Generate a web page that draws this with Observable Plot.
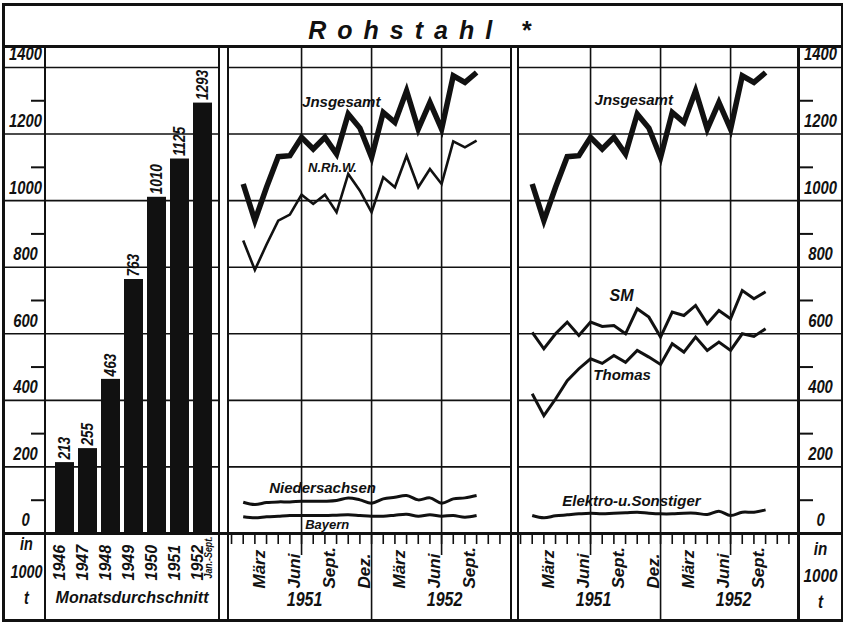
<!DOCTYPE html>
<html>
<head>
<meta charset="utf-8">
<script src="https://cdn.jsdelivr.net/npm/d3@7"></script>
<script src="https://cdn.jsdelivr.net/npm/@observablehq/plot@0.6"></script>
<style>
  html, body { margin: 0; padding: 0; background: #fff; }
  #chart { position: relative; width: 845px; height: 623px; background: #fff; overflow: hidden; }
  #chart svg { position: absolute; overflow: visible; }
  .ln { position: absolute; background: #111; }
  #title { position: absolute; left: 4px; top: 10px; width: 837px; height: 40px; line-height: 40px; text-align: center;
    font-family: "Liberation Sans", Arial, sans-serif; font-weight: bold; font-style: italic; font-size: 25px;
    letter-spacing: 11px; text-indent: 5px; color: #111; }
</style>
</head>
<body>
<div id="chart"><div id="title">Rohstahl *</div></div>
<script>
// ---------- data ----------
const barYears = ["1946", "1947", "1948", "1949", "1950", "1951", "1952"];
const barValues = [213, 255, 463, 763, 1010, 1125, 1293];
const barNote = "Jan.-Sept.";
const barCaption = "Monatsdurchschnitt";

const monthKeys = ["1951-01","1951-02","1951-03","1951-04","1951-05","1951-06","1951-07","1951-08","1951-09","1951-10","1951-11","1951-12",
                   "1952-01","1952-02","1952-03","1952-04","1952-05","1952-06","1952-07","1952-08","1952-09"];
const insgesamt     = [1050, 940, 1040, 1132, 1135, 1190, 1155, 1190, 1140, 1260, 1218, 1130, 1265, 1235, 1330, 1215, 1295, 1215, 1375, 1355, 1385];
const nrhw          = [880, 792, 868, 940, 958, 1018, 990, 1018, 965, 1080, 1030, 965, 1070, 1040, 1135, 1040, 1095, 1050, 1178, 1160, 1180];
const niedersachsen = [94, 87, 93, 95, 95, 97, 97, 97, 99, 107, 101, 91, 104, 109, 114, 101, 107, 91, 104, 107, 114];
const bayern        = [50, 47, 50, 52, 54, 54, 54, 54, 55, 56, 54, 52, 52, 55, 58, 52, 56, 52, 54, 49, 54];
const smStahl       = [604, 555, 600, 635, 595, 635, 622, 625, 600, 675, 650, 590, 665, 655, 685, 630, 670, 645, 730, 705, 726];
const thomasStahl   = [420, 354, 404, 459, 495, 525, 511, 535, 514, 550, 530, 508, 570, 545, 590, 550, 575, 550, 600, 592, 615];
const elektroStahl  = [54, 47, 53, 56, 59, 61, 59, 61, 62, 64, 61, 59, 59, 61, 61, 57, 67, 54, 64, 64, 71];

const yTicksMajor = [0, 200, 400, 600, 800, 1000, 1200, 1400];
const yTicksMinor = [100, 300, 500, 700, 900, 1100, 1300];
const monthLabelKeys = ["1951-03","1951-06","1951-09","1951-12","1952-03","1952-06","1952-09"];
const monthLabelText = ["März", "Juni", "Sept.", "Dez.", "März", "Juni", "Sept."];
const gridMonthKeys = ["1951-06", "1951-12", "1952-06"];
const juneKeys = ["1951-06", "1952-06"];
const decKeys = ["1951-12"];
const yearLabelKeys = ["1951-06", "1952-06"];
const yearLabelText = ["1951", "1952"];
const unitLines = ["in", "1000", "t"];

// ---------- helpers ----------
const INK = "#111";
const FONT = '"Liberation Sans", Arial, sans-serif';
const NUMFONT = '"Liberation Sans Narrow", "Liberation Sans", Arial, sans-serif';
const TXT = {fontFamily: FONT, fontWeight: "bold", fontStyle: "italic", fill: INK};
const NUM = {fontFamily: NUMFONT, fontWeight: "bold", fontStyle: "italic", fill: INK};
const monthIndex = k => { const [y, m] = k.split("-").map(Number); return (y - 1951) * 12 + (m - 1); };
const Y_DOMAIN = [0, 1460];
const H = 573, MB = 87;
const monthTicks = d3.range(-1, 23);

const rows = monthKeys.map((k, i) => ({
  m: monthIndex(k), ins: insgesamt[i], nrw: nrhw[i], nds: niedersachsen[i], bay: bayern[i],
  sm: smStahl[i], th: thomasStahl[i], el: elektroStahl[i]
}));
const barRows = barYears.map((year, i) => ({year, value: barValues[i]}));
const monthLabelRows = monthLabelKeys.map((k, i) => ({m: monthIndex(k), label: monthLabelText[i]}));
const yearLabelRows = yearLabelKeys.map((k, i) => ({m: monthIndex(k), label: yearLabelText[i]}));

const grid = () => Plot.gridY(yTicksMajor.slice(1), {stroke: INK, strokeOpacity: 1, strokeWidth: 1.6});
const monthMarks = () => [
  Plot.gridX(gridMonthKeys.map(monthIndex), {stroke: INK, strokeOpacity: 1, strokeWidth: 1.6}),
  Plot.axisX(monthTicks, {anchor: "bottom", tickSize: 11, fill: "none", strokeWidth: 1.6, label: null}),
  Plot.axisX(juneKeys.map(monthIndex), {anchor: "bottom", tickSize: 22, fill: "none", strokeWidth: 1.6, label: null}),
  Plot.axisX(decKeys.map(monthIndex), {anchor: "bottom", tickSize: 87, fill: "none", strokeWidth: 1.6, label: null}),
  Plot.text(monthLabelRows, {x: "m", text: "label", frameAnchor: "bottom", rotate: -90, textAnchor: "start",
    dy: 55, dx: -2, fontSize: 17, ...TXT}),
  Plot.text(yearLabelRows, {x: "m", text: "label", frameAnchor: "bottom", dy: 72, dx: 3, fontSize: 20, ...NUM})
];
const seriesLine = (key, w, curve) => Plot.line(rows, {x: "m", y: key, stroke: INK, strokeWidth: w,
  curve: curve || "linear", strokeLinejoin: "miter", strokeMiterlimit: 4, strokeLinecap: "butt"});
// the unit "in 1000 t", one line of text per mark, stacked in the axis column
const unitMarks = (anchor, dx, offsets, size) => unitLines.map((line, i) =>
  Plot.text([line], {text: d => d, frameAnchor: anchor, dx, dy: offsets[i], textAnchor: "middle", fontSize: size, ...NUM}));

// ---------- left panel: yearly averages ----------
const leftPlot = Plot.plot({
  width: 216, height: H, marginTop: 0, marginRight: 0, marginBottom: MB, marginLeft: 41,
  style: {background: "transparent", color: INK, overflow: "visible"},
  x: {type: "band", domain: barYears, range: [51, 209], paddingInner: 0.18, paddingOuter: 0, axis: null, label: null},
  y: {domain: Y_DOMAIN, axis: null, label: null},
  marks: [
    grid(),
    Plot.axisY(yTicksMajor, {anchor: "left", tickSize: 41, fill: "none", strokeWidth: 1.6, label: null}),
    Plot.axisY(yTicksMinor, {anchor: "left", tickSize: 13, fill: "none", strokeWidth: 2, label: null}),
    Plot.axisY(yTicksMajor, {anchor: "left", tickSize: 0, tickPadding: 0, dx: -19, dy: -13, textAnchor: "middle",
      tickFormat: d => String(d), fontSize: 18.5, ...NUM, label: null}),
    Plot.barY(barRows, {x: "year", y: "value", fill: INK}),
    Plot.text(barRows, {x: "year", y: "value", text: d => String(d.value), rotate: -90, textAnchor: "start",
      dy: -3, fontSize: 17, ...NUM}),
    Plot.text(barYears, {x: d => d, text: d => d, frameAnchor: "bottom", rotate: -90, textAnchor: "start",
      dy: 47, fontSize: 16, ...TXT}),
    Plot.text([barNote], {x: () => barYears[barYears.length - 1], text: d => d, frameAnchor: "bottom", rotate: -90,
      textAnchor: "start", dy: 45, dx: 9, fontSize: 11, ...NUM}),
    Plot.text([barCaption], {text: d => d, frameAnchor: "bottom", dy: 69, fontSize: 16, ...TXT}),
    ...unitMarks("bottom-left", -18, [16, 44, 70], 18)
  ]
});

// ---------- middle panel: by region ----------
const midPlot = Plot.plot({
  width: 283, height: H, marginTop: 0, marginRight: 0, marginBottom: MB, marginLeft: 0,
  style: {background: "transparent", color: INK, overflow: "visible"},
  x: {domain: [-1.26, 22.99], axis: null, label: null},
  y: {domain: Y_DOMAIN, axis: null, label: null},
  marks: [
    grid(),
    ...monthMarks(),
    seriesLine("nds", 3, "catmull-rom"),
    seriesLine("bay", 3, "catmull-rom"),
    seriesLine("nrw", 2.6),
    seriesLine("ins", 5.5),
    Plot.text(["Jnsgesamt"], {x: 8.4, y: 1297, text: d => d, fontSize: 15, ...TXT}),
    Plot.text(["N.Rh.W."], {x: 7.65, y: 1099, text: d => d, fontSize: 13, ...TXT}),
    Plot.text(["Niedersachsen"], {x: 6.8, y: 135, text: d => d, fontSize: 15, letterSpacing: 0.6, ...TXT}),
    Plot.text(["Bayern"], {x: 7.2, y: 26, text: d => d, fontSize: 13, ...TXT})
  ]
});

// ---------- right panel: by process ----------
const rightPlot = Plot.plot({
  width: 324, height: H, marginTop: 0, marginRight: 44, marginBottom: MB, marginLeft: 0,
  style: {background: "transparent", color: INK, overflow: "visible"},
  x: {domain: [-1.174, 22.82], axis: null, label: null},
  y: {domain: Y_DOMAIN, axis: null, label: null},
  marks: [
    grid(),
    Plot.axisY(yTicksMajor, {anchor: "right", tickSize: 44, fill: "none", strokeWidth: 1.6, label: null}),
    Plot.axisY(yTicksMinor, {anchor: "right", tickSize: 14, fill: "none", strokeWidth: 2, label: null}),
    Plot.axisY(yTicksMajor, {anchor: "right", tickSize: 0, tickPadding: 0, dx: 22, dy: -13, textAnchor: "middle",
      tickFormat: d => String(d), fontSize: 18.5, ...NUM, label: null}),
    ...monthMarks(),
    seriesLine("el", 3, "catmull-rom"),
    seriesLine("th", 3),
    seriesLine("sm", 3),
    seriesLine("ins", 5.5),
    Plot.text(["Jnsgesamt"], {x: 8.7, y: 1303, text: d => d, fontSize: 15, ...TXT}),
    Plot.text(["SM"], {x: 7.65, y: 713, text: d => d, fontSize: 16, ...TXT}),
    Plot.text(["Thomas"], {x: 7.7, y: 477, text: d => d, fontSize: 15, ...TXT}),
    Plot.text(["Elektro-u.Sonstiger"], {x: 8.5, y: 96, text: d => d, fontSize: 15, letterSpacing: 0.3, ...TXT}),
    ...unitMarks("bottom-right", 22, [21, 48, 74], 19)
  ]
});

// narrow (condensed) lettering for the figures, like the printed stencil digits:
// each glyph run is compressed horizontally around its own anchor point
function squeeze(svg, factor) {
  const done = new Set();
  svg.querySelectorAll('[font-family*="Narrow"]').forEach(node => {
    const texts = node.tagName.toLowerCase() === "text" ? [node] : Array.from(node.querySelectorAll("text"));
    texts.forEach(el => {
      if (done.has(el)) return;
      done.add(el);
      const t = el.getAttribute("transform") || "";
      const x = parseFloat(el.getAttribute("x")) || 0;
      el.setAttribute("transform", `${t} translate(${x},0) scale(${factor},1) translate(${-x},0)`);
    });
  });
}

// ---------- assemble ----------
const chart = document.getElementById("chart");
[[leftPlot, 3], [midPlot, 228], [rightPlot, 518]].forEach(([svg, left]) => {
  squeeze(svg, 0.8);
  svg.style.left = left + "px";
  svg.style.top = "47px";
  svg.style.maxWidth = "none";
  chart.appendChild(svg);
});
// table rules of the printed chart
const rules = [
  [2, 3, 841, 2.5], [2, 619, 841, 2.5], [2, 3, 2.5, 618.5], [840.5, 3, 2.5, 618.5],
  [2, 45, 841, 3], [2, 532, 841, 2.5],
  [43.5, 46, 2.5, 575], [217.5, 46, 2.5, 575], [226.5, 46, 2.5, 575],
  [509.5, 46, 2.5, 575], [516.5, 46, 2.5, 575], [797, 46, 2.5, 575]
];
rules.forEach(([l, t, w, h]) => {
  const d = document.createElement("div");
  d.className = "ln";
  Object.assign(d.style, {left: l + "px", top: t + "px", width: w + "px", height: h + "px"});
  chart.appendChild(d);
});
</script>
</body>
</html>
